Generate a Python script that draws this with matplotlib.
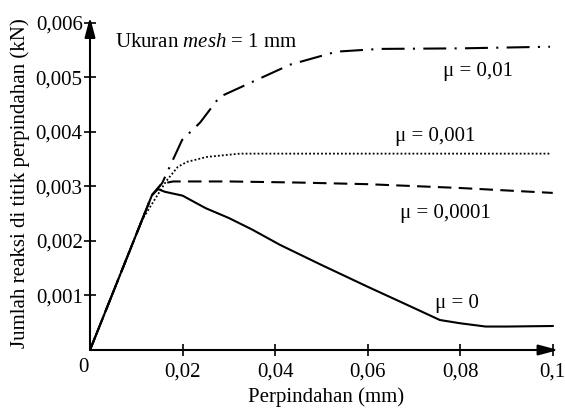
import matplotlib.pyplot as plt

plt.rcParams['font.family'] = ['Liberation Serif', 'DejaVu Serif']
plt.rcParams['mathtext.fontset'] = 'custom'
plt.rcParams['mathtext.it'] = 'Liberation Serif:italic'
plt.rcParams['mathtext.rm'] = 'Liberation Serif'

# Curves (displacement in mm, reaction in kN)
x_mu0 = [0, 0.0134, 0.0147, 0.0162, 0.02, 0.025, 0.03, 0.035, 0.041, 0.05,
         0.06, 0.07, 0.0756, 0.08, 0.0855, 0.09, 0.1]
y_mu0 = [0, 0.00284, 0.00295, 0.0029, 0.00283, 0.0026, 0.00242, 0.00221, 0.00193,
         0.00156, 0.00116, 0.00077, 0.00055, 0.00049, 0.00043, 0.00043, 0.00044]

x_mu00001 = [0, 0.0134, 0.0155, 0.018, 0.03, 0.045, 0.06, 0.08, 0.1]
y_mu00001 = [0, 0.00284, 0.00305, 0.00309, 0.00309, 0.00307, 0.00304, 0.00297, 0.00288]

x_mu0001 = [0, 0.0112, 0.0165, 0.019, 0.021, 0.0253, 0.0324, 0.04, 0.0994]
y_mu0001 = [0, 0.00238, 0.0031, 0.00336, 0.00345, 0.00354, 0.0036, 0.0036, 0.0036]

x_mu001 = [0, 0.0134, 0.0156, 0.0199, 0.0238, 0.028, 0.0352, 0.0432, 0.0533,
           0.0626, 0.08, 0.0994]
y_mu001 = [0, 0.00284, 0.00306, 0.00385, 0.00417, 0.00464, 0.00492, 0.00523,
           0.00547, 0.00552, 0.00553, 0.00556]

x_ticks = [0.02, 0.04, 0.06, 0.08, 0.1]
x_labels = ['0,02', '0,04', '0,06', '0,08', '0,1']
y_ticks = [0.001, 0.002, 0.003, 0.004, 0.005, 0.006]
y_labels = ['0,001', '0,002', '0,003', '0,004', '0,005', '0,006']

fig = plt.figure(figsize=(5.65, 4.08), dpi=100)
ax = fig.add_axes([90 / 565, 58 / 408, 472 / 565, 330 / 408])
ax.set_xlim(0, 0.102)
ax.set_ylim(0, 0.00605)

ax.plot(x_mu001, y_mu001, color='k', lw=1.5, dashes=(11, 4, 1, 4))
ax.plot(x_mu0001, y_mu0001, color='k', lw=1.3, dashes=(1, 1.2))
ax.plot(x_mu00001, y_mu00001, color='k', lw=1.5, dashes=(6.5, 3.5))
ax.plot(x_mu0, y_mu0, color='k', lw=1.5)

# axes drawn as arrows
for s in ax.spines.values():
    s.set_visible(False)
arrow = dict(arrowstyle='-|>,head_length=0.6,head_width=0.16', lw=1.5, color='k',
             mutation_scale=20, shrinkA=0, shrinkB=0)
ax.annotate('', xy=(0.1012, 0), xytext=(0, 0), arrowprops=arrow,
            annotation_clip=False)
ax.annotate('', xy=(0, 0.0061), xytext=(0, 0), arrowprops=arrow,
            annotation_clip=False)

ax.set_xticks(x_ticks)
ax.set_xticklabels(x_labels, fontsize=15)
ax.set_yticks(y_ticks)
ax.set_yticklabels(y_labels, fontsize=15)
ax.tick_params(axis='x', direction='inout', length=8.5, width=1.2, pad=5)
ax.tick_params(axis='y', direction='inout', length=8.5, width=1.2, pad=1)
ax.text(-0.0002, -0.00015, '0', fontsize=15, ha='right', va='top')

ax.set_xlabel('Perpindahan (mm)', fontsize=15, labelpad=4)
fig.text(20 / 565, 1 - 183 / 408, 'Jumlah reaksi di titik perpindahan (kN)',
         fontsize=15, rotation=90, ha='center', va='center')

ax.text(0.0054, 0.00563, r'Ukuran $mesh$ = 1 mm', fontsize=15, va='center')
ax.text(0.0838, 0.00510, 'μ = 0,01', fontsize=15, ha='center', va='center')
ax.text(0.0747, 0.00391, 'μ = 0,001', fontsize=15, ha='center', va='center')
ax.text(0.0769, 0.00251, 'μ = 0,0001', fontsize=15, ha='center', va='center')
ax.text(0.0793, 0.00086, 'μ = 0', fontsize=15, ha='center', va='center')

fig.savefig('out.png', dpi=100)
